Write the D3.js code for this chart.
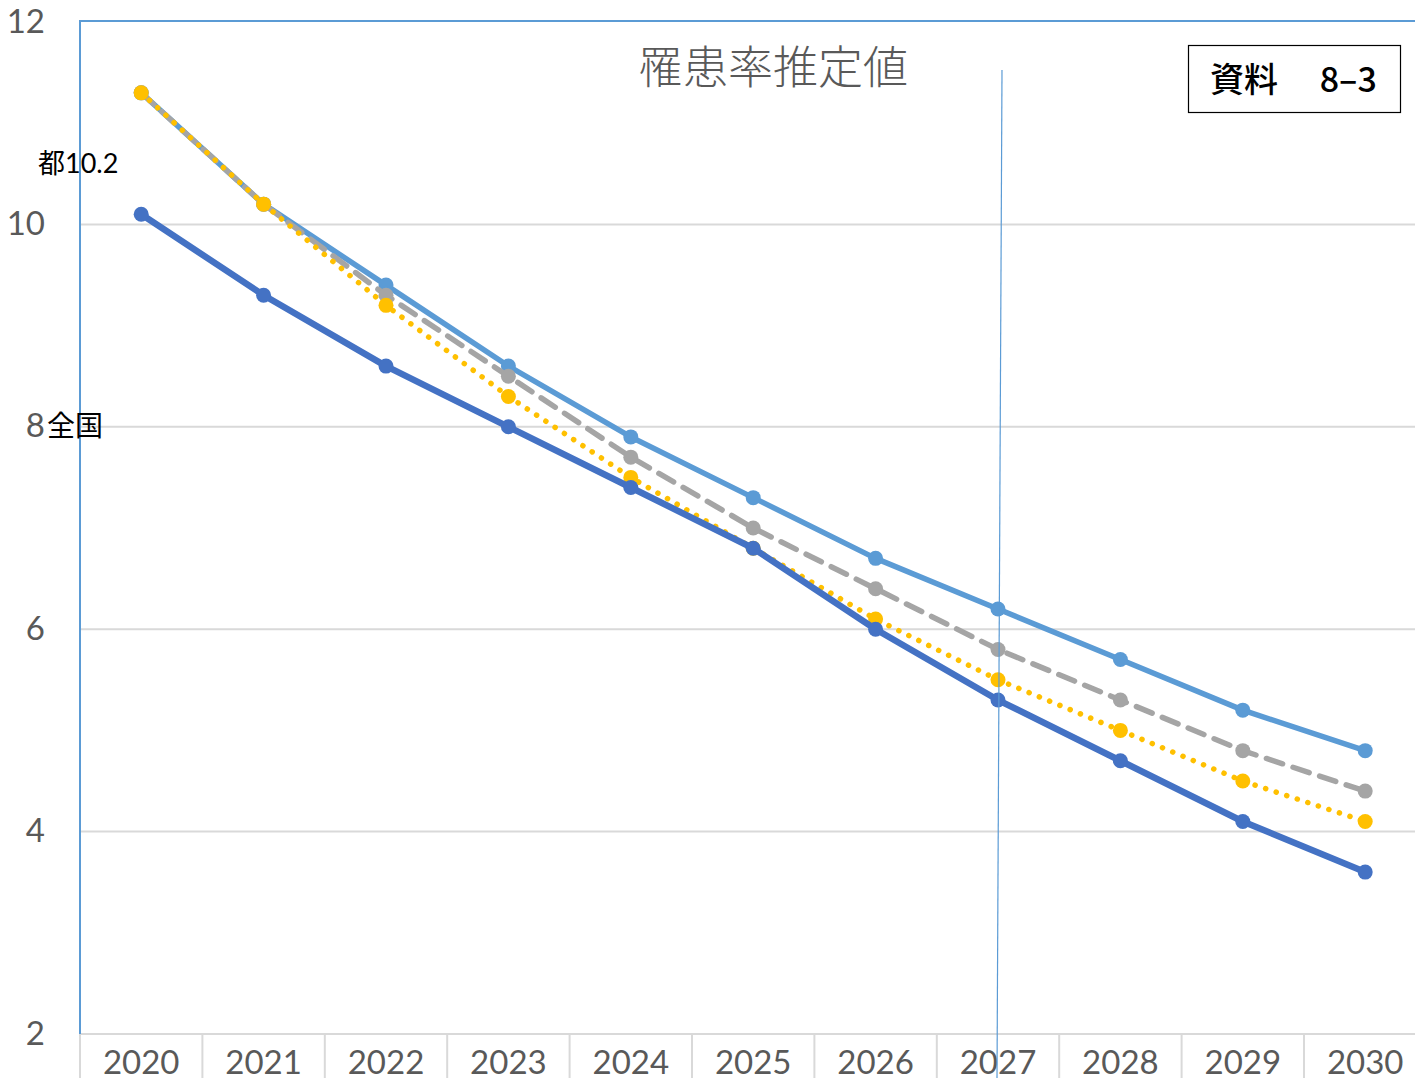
<!DOCTYPE html>
<html>
<head>
<meta charset="utf-8">
<script src="https://cdn.jsdelivr.net/npm/d3@7"></script>
<style>
	body { margin: 0; background: #fff; }
	svg { display: block; }
</style>
</head>
<body>
<div id="chart"></div>
<script>
// Data
var years = ["2020", "2021", "2022", "2023", "2024", "2025", "2026", "2027", "2028", "2029", "2030"];
var yTicks = [2, 4, 6, 8, 10, 12];
var lightBlue = [11.3, 10.2, 9.4, 8.6, 7.9, 7.3, 6.7, 6.2, 5.7, 5.2, 4.8];
var grey = [11.3, 10.2, 9.3, 8.5, 7.7, 7.0, 6.4, 5.8, 5.3, 4.8, 4.4];
var yellow = [11.3, 10.2, 9.2, 8.3, 7.5, 6.8, 6.1, 5.5, 5.0, 4.5, 4.1];
var darkBlue = [10.1, 9.3, 8.6, 8.0, 7.4, 6.8, 6.0, 5.3, 4.7, 4.1, 3.6];

// Layout
var W = 1415, H = 1078;
var plot = { left: 80, top: 22, bottom: 1034, right: 1426.4 };
var tickFont = "Lato, 'Open Sans', sans-serif";
var cjkFont = "'Noto Sans CJK JP', sans-serif";

var svg = d3.select("#chart").append("svg")
	.attr("width", W).attr("height", H);

var x = d3.scaleBand().domain(years).range([plot.left, plot.right]);
var y = d3.scaleLinear().domain([2, 12]).range([plot.bottom, plot.top]);
function cx(i) { return x(years[i]) + x.bandwidth() / 2; }

// Gridlines
svg.append("g").selectAll("line")
	.data(yTicks.filter(function(t) { return t > 2 && t < 12; }))
	.enter().append("line")
	.attr("x1", plot.left).attr("x2", W)
	.attr("y1", function(d) { return y(d); }).attr("y2", function(d) { return y(d); })
	.style("stroke", "#d9d9d9").style("stroke-width", 2);

// Bottom axis line + category separators
svg.append("line")
	.attr("x1", plot.left).attr("x2", W)
	.attr("y1", plot.bottom).attr("y2", plot.bottom)
	.style("stroke", "#d9d9d9").style("stroke-width", 2);
svg.append("g").selectAll("line")
	.data(years)
	.enter().append("line")
	.attr("x1", function(d) { return x(d); }).attr("x2", function(d) { return x(d); })
	.attr("y1", plot.bottom).attr("y2", H)
	.style("stroke", "#d9d9d9").style("stroke-width", 2);

// Frame (left + top, blue)
svg.append("path")
	.attr("d", "M" + plot.left + "," + plot.bottom + "V" + (plot.top - 1) + "H" + W)
	.style("fill", "none").style("stroke", "#5b9bd5").style("stroke-width", 2);

// Y tick labels
svg.append("g").selectAll("text")
	.data(yTicks)
	.enter().append("text")
	.attr("x", 45).attr("y", function(d) { return y(d) - 1; })
	.attr("dy", "0.35em")
	.attr("text-anchor", "end")
	.style("font-family", tickFont).style("font-size", "33px").style("fill", "#595959")
	.text(function(d) { return d; });

// X tick labels (cut at the bottom edge, as in the source)
svg.append("g").selectAll("text")
	.data(years)
	.enter().append("text")
	.attr("x", function(d) { return x(d) + x.bandwidth() / 2; })
	.attr("y", 1074)
	.attr("text-anchor", "middle")
	.style("font-family", tickFont).style("font-size", "33px").style("fill", "#595959")
	.text(function(d) { return d; });

// Series (drawing order: bottom first)
var series = [
	{ values: lightBlue, color: "#5b9bd5", width: 5.5, dash: null },
	{ values: grey, color: "#a5a5a5", width: 5.5, dash: "17,11" },
	{ values: yellow, color: "#ffc000", width: 5.5, dash: "0.1,11" },
	{ values: darkBlue, color: "#4472c4", width: 6.5, dash: null }
];
var line = d3.line()
	.x(function(d, i) { return cx(i); })
	.y(function(d) { return y(d); });

series.forEach(function(s) {
	var g = svg.append("g");
	g.append("path")
		.attr("d", line(s.values))
		.style("fill", "none")
		.style("stroke", s.color)
		.style("stroke-width", s.width)
		.style("stroke-linecap", s.dash ? "round" : "butt")
		.style("stroke-linejoin", "round")
		.style("stroke-dasharray", s.dash);
	g.selectAll("circle")
		.data(s.values)
		.enter().append("circle")
		.attr("cx", function(d, i) { return cx(i); })
		.attr("cy", function(d) { return y(d); })
		.attr("r", 7.5)
		.style("fill", s.color);
});

// Thin vertical marker line
svg.append("line")
	.attr("x1", 1002).attr("y1", 70).attr("x2", 997).attr("y2", H)
	.style("stroke", "#5b9bd5").style("stroke-width", 1.2);

// Title
svg.append("text")
	.attr("x", 773).attr("y", 84)
	.attr("text-anchor", "middle")
	.style("font-family", cjkFont).style("font-size", "45px").style("font-weight", 300)
	.style("fill", "#595959")
	.text("罹患率推定値");

// Box label
svg.append("rect")
	.attr("x", 1188.5).attr("y", 45.5).attr("width", 212).attr("height", 67)
	.style("fill", "#fff").style("stroke", "#000").style("stroke-width", 1.2);
svg.append("text")
	.attr("x", 1210).attr("y", 92)
	.style("font-family", cjkFont).style("font-size", "34px").style("font-weight", 500)
	.style("fill", "#000")
	.text("資料\u3000 8\u20133");

// Annotations
svg.append("text")
	.attr("x", 38).attr("y", 173)
	.style("font-family", cjkFont).style("font-size", "27px").style("fill", "#000")
	.text("都")
	.append("tspan")
	.style("font-family", tickFont)
	.text("10.2");
svg.append("text")
	.attr("x", 47).attr("y", 436)
	.style("font-family", cjkFont).style("font-size", "28px").style("fill", "#000")
	.text("全国");
</script>
</body>
</html>
